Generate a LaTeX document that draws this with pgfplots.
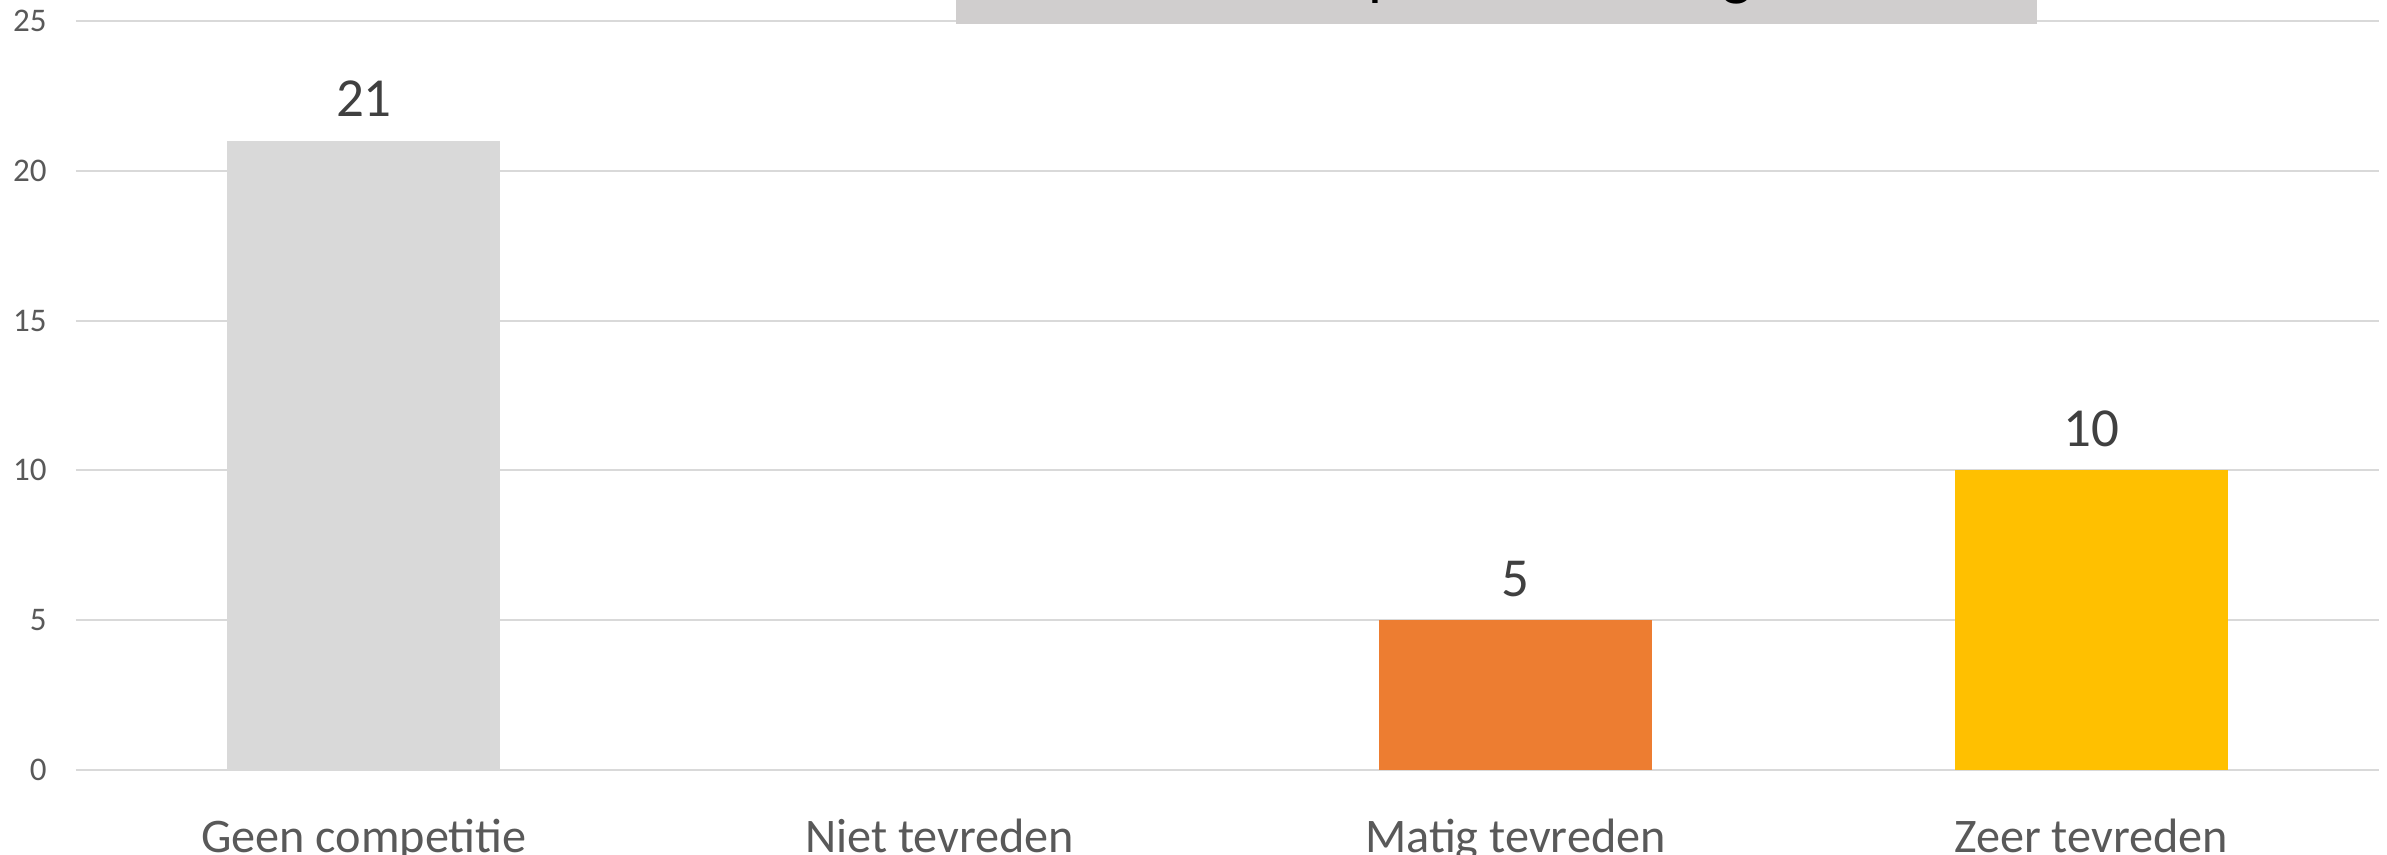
\documentclass[border=0pt]{standalone}
\usepackage{fontspec}
\setmainfont{Carlito}
\usepackage{pgfplots}
\pgfplotsset{compat=1.18}
\definecolor{gridc}{HTML}{D9D9D9}
\definecolor{tickc}{HTML}{595959}
\definecolor{labc}{HTML}{404040}
\definecolor{cgeen}{HTML}{D9D9D9}
\definecolor{cmatig}{HTML}{ED7D31}
\definecolor{czeer}{HTML}{FFC000}
\definecolor{titlebg}{HTML}{D0CECE}
\begin{document}
\begin{tikzpicture}
\useasboundingbox (0,0) rectangle (954.8pt,342pt);
\clip (0,0) rectangle (954.8pt,342pt);
\fill[white] (0,0) rectangle (954.8pt,342pt);
\begin{axis}[
  at={(30.4pt,34pt)}, anchor=south west,
  scale only axis, width=921.2pt, height=299.6pt,
  xmin=-0.5, xmax=3.5, ymin=0, ymax=25,
  ybar, bar width=109.2pt, bar shift=0pt,
  xtick={0,1,2,3},
  xticklabels={Geen competitie, Niet tevreden, Matig tevreden, Zeer tevreden},
  ytick={0,5,...,25},
  axis line style={draw=none},
  tick style={draw=none},
  ymajorgrids,
  major grid style={draw=gridc, line width=0.8pt},
  /pgf/number format/assume math mode=true,
  y tick label style={font=\fontsize{13.2}{14}\selectfont, color=tickc, anchor=east, inner sep=0pt, xshift=-11.6pt},
  x tick label style={font=\fontsize{19.3}{23}\selectfont, color=tickc, anchor=base, inner sep=0pt, yshift=-28.6pt},
  nodes near coords,
  every node near coord/.append style={font=\fontsize{22}{26}\selectfont, color=labc, anchor=base, inner sep=0pt, yshift=9.6pt},
]
\addplot[fill=cgeen, draw=none] coordinates {(0,21)};
\addplot[fill=cmatig, draw=none] coordinates {(2,5)};
\addplot[fill=czeer, draw=none] coordinates {(3,10)};
\end{axis}
\fill[titlebg] (382.4pt,332.4pt) rectangle (814.8pt,350pt);
\node[anchor=base, font=\fontsize{24.8}{28}\selectfont, inner sep=0pt, text=black] at (601pt,344.6pt) {Competitie-indeling};
\end{tikzpicture}
\end{document}
